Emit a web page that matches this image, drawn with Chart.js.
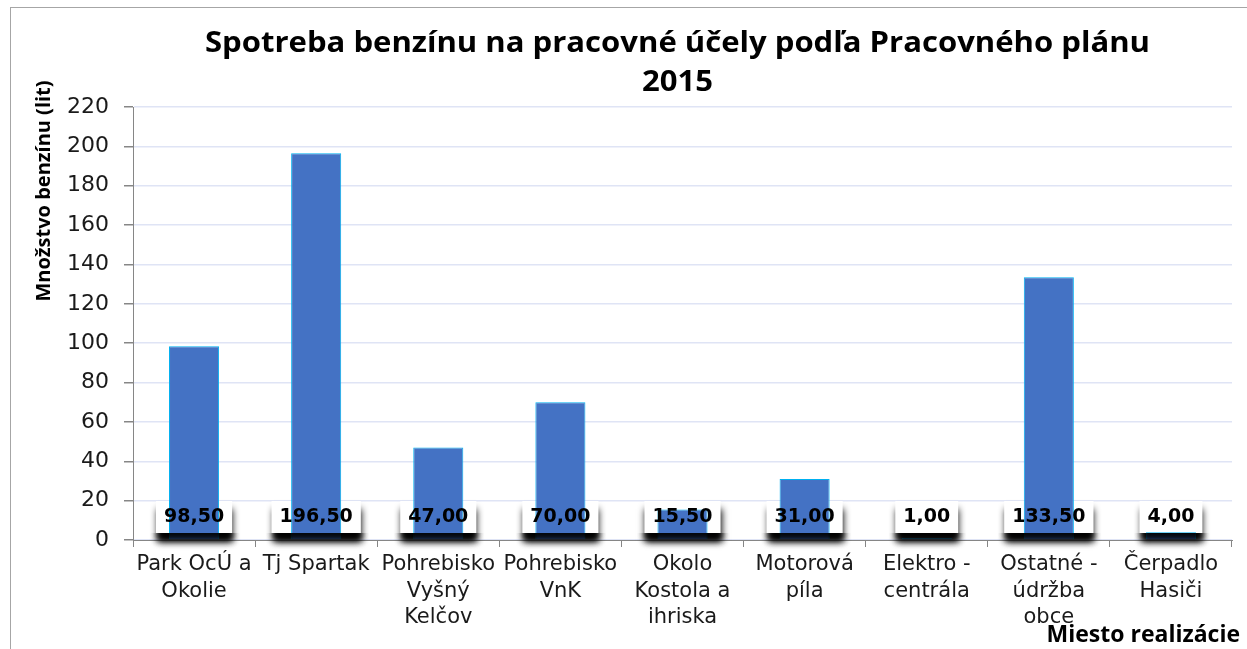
<!DOCTYPE html>
<html>
<head>
<meta charset="utf-8">
<script src="https://cdn.jsdelivr.net/npm/chart.js@4.4.1/dist/chart.umd.min.js"></script>
<style>
  html, body { margin: 0; padding: 0; background: #ffffff; overflow: hidden; width: 1247px; height: 649px; }
  #frame { position: absolute; left: 10px; top: 7px; width: 1250px; height: 700px; border: 1px solid #a6a6a6; background: #fff; }
  #wrap { position: absolute; left: 0; top: 0; width: 1236px; height: 641px; }
</style>
</head>
<body>
<div id="frame"><div id="wrap"><canvas id="c"></canvas></div></div>
<script>
const categories = [
  ["Park OcÚ a", "Okolie"],
  ["Tj Spartak"],
  ["Pohrebisko", "Vyšný", "Kelčov"],
  ["Pohrebisko", "VnK"],
  ["Okolo", "Kostola a", "ihriska"],
  ["Motorová", "píla"],
  ["Elektro -", "centrála"],
  ["Ostatné -", "údržba", "obce"],
  ["Čerpadlo", "Hasiči"]
];
const values = [98.5, 196.5, 47, 70, 15.5, 31, 1, 133.5, 4];
const valueLabels = ["98,50", "196,50", "47,00", "70,00", "15,50", "31,00", "1,00", "133,50", "4,00"];
const yTicks = [0, 20, 40, 60, 80, 100, 120, 140, 160, 180, 200, 220];
const titleLines = ["Spotreba benzínu na pracovné účely podľa Pracovného plánu", "2015"];
const yTitle = "Množstvo benzínu (lit)";
const xTitle = "Miesto realizácie";

const LABEL_FONT = "bold 19px 'DejaVu Sans'";

function boxFor(chart, i) {
  const meta = chart.getDatasetMeta(0);
  const bar = meta.data[i];
  const ctx = chart.ctx;
  ctx.font = LABEL_FONT;
  const w = ctx.measureText(valueLabels[i]).width + 16;
  const base = chart.scales.y.getPixelForValue(0);
  return { x: bar.x - w / 2, y: base - 39, w: w, h: 32, cx: bar.x, cy: base - 23 };
}

function shadowBox(ctx, b) {
  ctx.shadowColor = 'rgba(0,0,0,0.95)';
  ctx.shadowBlur = 7;
  ctx.shadowOffsetX = 1;
  ctx.shadowOffsetY = 8;
  ctx.fillStyle = '#ffffff';
  ctx.fillRect(b.x, b.y, b.w, b.h);
}

const labelPlugin = {
  id: 'valueBoxes',
  beforeDatasetsDraw(chart) {
    const ctx = chart.ctx;
    for (let i = 0; i < values.length; i++) {
      const b = boxFor(chart, i);
      ctx.save();
      shadowBox(ctx, b);
      ctx.restore();
    }
  },
  afterDatasetsDraw(chart) {
    const ctx = chart.ctx;
    for (let i = 0; i < values.length; i++) {
      const b = boxFor(chart, i);
      ctx.save();
      ctx.beginPath();
      ctx.rect(b.x - 40, b.y + b.h, b.w + 80, 40);
      ctx.clip();
      shadowBox(ctx, b);
      ctx.restore();
      ctx.save();
      ctx.font = LABEL_FONT;
      ctx.fillStyle = '#000000';
      ctx.textAlign = 'center';
      ctx.textBaseline = 'middle';
      ctx.fillText(valueLabels[i], b.cx, b.cy);
      ctx.restore();
    }
  },
  afterDraw(chart) {
    const ctx = chart.ctx;
    const area = chart.chartArea;
    const cx = (area.left + area.right) / 2 - 5;
    ctx.save();
    ctx.fillStyle = '#000000';
    ctx.font = "bold 28px 'Open Sans'";
    ctx.textAlign = 'center';
    ctx.textBaseline = 'middle';
    const w0 = ctx.measureText(titleLines[0]).width;
    const sx = 945 / w0;
    ctx.translate(cx, 0);
    ctx.scale(sx, 1);
    ctx.fillText(titleLines[0], 0, area.top - 63);
    ctx.fillText(titleLines[1], 0, area.top - 24);
    ctx.restore();
    ctx.save();
    ctx.fillStyle = '#000000';
    ctx.font = "bold 20px 'Open Sans'";
    ctx.translate(area.left - 89, area.top + 84);
    ctx.rotate(-Math.PI / 2);
    ctx.textAlign = 'center';
    ctx.textBaseline = 'middle';
    ctx.fillText(yTitle, 0, 0);
    ctx.restore();
    ctx.save();
    ctx.fillStyle = '#000000';
    ctx.font = "bold 23px 'Open Sans'";
    ctx.textAlign = 'right';
    ctx.textBaseline = 'middle';
    ctx.fillText(xTitle, area.right + 8, area.bottom + 95);
    ctx.restore();
  }
};

new Chart(document.getElementById('c'), {
  type: 'bar',
  data: {
    labels: categories,
    datasets: [{
      data: values,
      backgroundColor: '#4472c4',
      borderColor: '#00b0f0',
      borderWidth: 1,
      categoryPercentage: 1.0,
      barPercentage: 0.41
    }]
  },
  options: {
    responsive: true,
    maintainAspectRatio: false,
    animation: false,
    events: [],
    layout: { padding: { left: 10, right: 15, top: 99, bottom: 0 } },
    plugins: {
      legend: { display: false },
      tooltip: { enabled: false },
      title: { display: false }
    },
    scales: {
      x: {
        grid: { display: true, drawOnChartArea: false, offset: true, tickColor: '#868686', tickLength: 7, lineWidth: 1 },
        border: { display: true, color: '#868686', width: 1 },
        ticks: {
          autoSkip: false, maxRotation: 0, minRotation: 0, padding: 5,
          color: '#1a1a1a',
          font: { family: "'DejaVu Sans'", size: 21, lineHeight: 1.24 }
        },
        afterFit(scale) { scale.height = 109; }
      },
      y: {
        min: 0, max: 220,
        afterBuildTicks(scale) { scale.ticks = yTicks.map(v => ({ value: v })); },
        grid: { color: '#dfe4f5', lineWidth: 1.5, tickColor: '#868686', tickLength: 9 },
        border: { display: true, color: '#868686', width: 1 },
        ticks: {
          padding: 15, color: '#1a1a1a',
          font: { family: "'DejaVu Sans'", size: 22 }
        },
        afterFit(scale) { scale.width = 112; }
      }
    }
  },
  plugins: [labelPlugin]
});
</script>
</body>
</html>
